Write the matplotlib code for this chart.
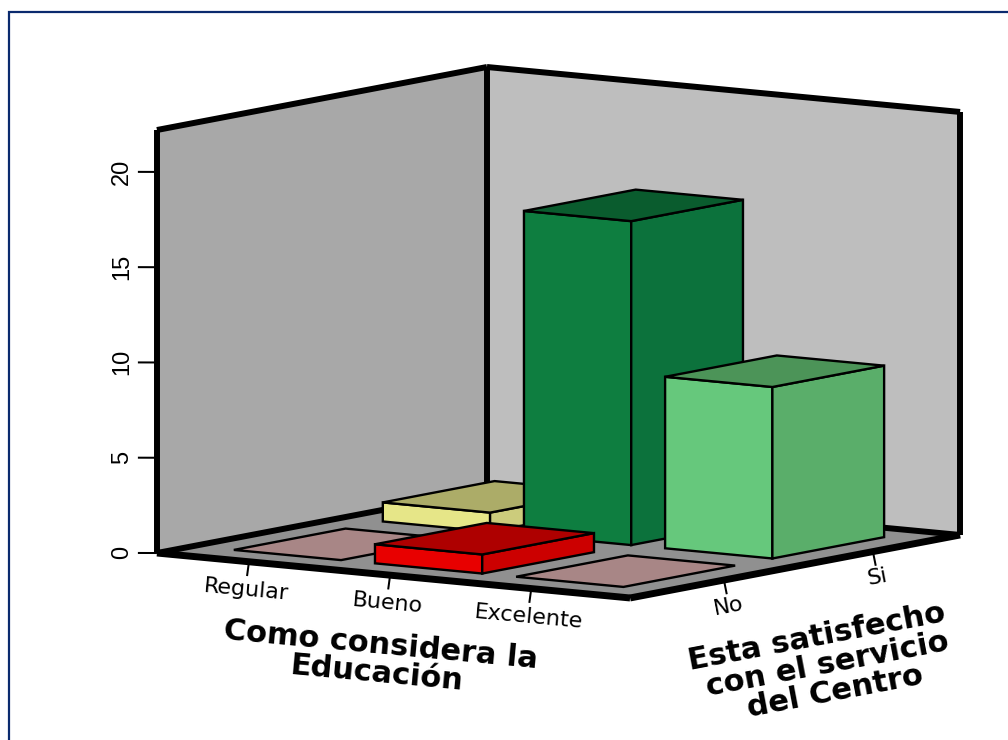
import matplotlib
matplotlib.use("Agg")
import matplotlib.pyplot as plt
from matplotlib.lines import Line2D
from mpl_toolkits.mplot3d import proj3d
from mpl_toolkits.mplot3d.art3d import Poly3DCollection

education = ["Regular", "Bueno", "Excelente"]
satisfied = ["No", "Si"]
counts_no = [0, 1, 0]
counts_si = [1, 17, 9]
z_ticks = [0, 5, 10, 15, 20]

# front, side, top colours for each cell
colors_no = [("#a88686", "#a88686", "#a88686"),
             ("#e80000", "#cc0000", "#ae0000"),
             ("#a88686", "#a88686", "#a88686")]
colors_si = [("#e6e688", "#cccc7c", "#acac68"),
             ("#0e7e40", "#0c723c", "#0a5c2e"),
             ("#66c87c", "#5aae6a", "#4c9458")]

x_min, x_max = -0.652, 2.70
y_min, y_max = -0.63, 1.585
z_max = 22.2
bar_dx = 0.76
bar_dy = 0.75

W, H = 1008, 740
fig = plt.figure(figsize=(W / 100, H / 100), dpi=100, facecolor="white")

# square 3d axes, larger than the figure height so the box fills the page
side = 892.5
ax = fig.add_axes([100.2 / W, -50.8 / H, side / W, side / H],
                  projection="3d", proj_type="ortho", computed_zorder=False)
ax.view_init(elev=7.74, azim=-54.8)
ax.set_box_aspect((579, 572.5, 426.9))
ax.set_axis_off()
ax.patch.set_visible(False)
ax.set_xlim(x_min, x_max, view_margin=0)
ax.set_ylim(y_min, y_max, view_margin=0)
ax.set_zlim(0, z_max, view_margin=0)

order = [0]


def face(verts, color, lw=1.7, edge="black"):
    order[0] += 1
    poly = Poly3DCollection([verts], facecolor=color, edgecolor=edge,
                            linewidth=lw, joinstyle="miter", zorder=order[0])
    ax.add_collection3d(poly)


def thick(xs, ys, zs, lw=4.3):
    order[0] += 1
    ax.plot(xs, ys, zs, color="black", lw=lw, solid_capstyle="butt", zorder=order[0])


def bar(i, j, value, colors):
    x0, x1 = i - bar_dx / 2, i + bar_dx / 2
    y0, y1 = j - bar_dy / 2, j + bar_dy / 2
    front, right, top = colors
    if value == 0:
        face([(x0, y0, 0), (x1, y0, 0), (x1, y1, 0), (x0, y1, 0)], top)
        return
    face([(x0, y0, 0), (x1, y0, 0), (x1, y0, value), (x0, y0, value)], front)
    face([(x1, y0, 0), (x1, y1, 0), (x1, y1, value), (x1, y0, value)], right)
    face([(x0, y0, value), (x1, y0, value), (x1, y1, value), (x0, y1, value)], top)


def label(x, y, z, s, **kw):
    # place a plain 2d text at the projected position of a 3d point
    px, py, _ = proj3d.proj_transform(x, y, z, ax.get_proj())
    ax.text2D(px, py, s, transform=ax.transData, rotation_mode="anchor",
              ha="center", va="center", zorder=100, **kw)


# walls and floor
face([(x_min, y_min, 0), (x_min, y_max, 0), (x_min, y_max, z_max), (x_min, y_min, z_max)],
     "#a8a8a8", lw=0, edge="none")
face([(x_min, y_max, 0), (x_max, y_max, 0), (x_max, y_max, z_max), (x_min, y_max, z_max)],
     "#bebebe", lw=0, edge="none")
face([(x_min, y_min, 0), (x_max, y_min, 0), (x_max, y_max, 0), (x_min, y_max, 0)],
     "#909090", lw=0, edge="none")

# thick outline of the box
thick([x_min, x_min], [y_min, y_max], [0, 0])
thick([x_min, x_max], [y_max, y_max], [0, 0])
thick([x_min, x_min], [y_min, y_min], [0, z_max])
thick([x_min, x_min], [y_max, y_max], [0, z_max])
thick([x_max, x_max], [y_max, y_max], [0, z_max])
thick([x_min, x_min], [y_min, y_max], [z_max, z_max])
thick([x_min, x_max], [y_max, y_max], [z_max, z_max])
thick([x_min, x_max], [y_min, y_min], [0, 0], lw=5)
thick([x_max, x_max], [y_min, y_max], [0, 0], lw=5)

# back row first so the front bars overlap it
bar(0, 0, counts_no[0], colors_no[0])
bar(2, 0, counts_no[2], colors_no[2])
bar(0, 1, counts_si[0], colors_si[0])
bar(1, 1, counts_si[1], colors_si[1])
bar(1, 0, counts_no[1], colors_no[1])
bar(2, 1, counts_si[2], colors_si[2])

# z axis ticks point straight left on the page
for z in z_ticks:
    ax.plot([x_min, x_min - 0.0916], [y_min, y_min - 0.0411], [z, z], color="black",
            lw=1.45, solid_capstyle="butt", zorder=1)
    label(x_min - 0.169, y_min - 0.0756, z, str(z), rotation=90,
          family="Liberation Sans", fontsize=17)

for i, name in enumerate(education):
    ax.plot([i, i], [y_min, y_min - 0.013], [0, -0.73], color="black", lw=1.45,
            solid_capstyle="butt", zorder=1)
    label(i - 0.02, y_min, -1.5, name, rotation=-5.3,
          family="DejaVu Sans", fontsize=16)

for j, name in enumerate(satisfied):
    ax.plot([x_max, x_max + 0.02], [j, j], [0, -0.73], color="black", lw=1.45,
            solid_capstyle="butt", zorder=1)
    label(x_max, j + 0.03, -1.4, name, rotation=10.8,
          family="DejaVu Sans", fontsize=16)

title_font = dict(family="DejaVu Sans", weight="bold", fontsize=22)
label(0.93, y_min, -3.73, "Como considera la", rotation=-5.3, **title_font)
label(0.90, y_min, -5.25, "Educación", rotation=-5.3, **title_font)
label(x_max, 0.625, -3.94, "Esta satisfecho", rotation=10.8, **title_font)
label(x_max, 0.692, -5.45, "con el servicio", rotation=10.8, **title_font)
label(x_max, 0.746, -7.0, "del Centro", rotation=10.8, **title_font)

# page border, only its top and left sides fall inside the image
fig.add_artist(Line2D([8.5 / W, 8.5 / W, 1], [0, 1 - 12 / H, 1 - 12 / H],
                      color="#0a2a6e", lw=1.6, solid_joinstyle="miter"))

fig.savefig("out.png", dpi=100)
